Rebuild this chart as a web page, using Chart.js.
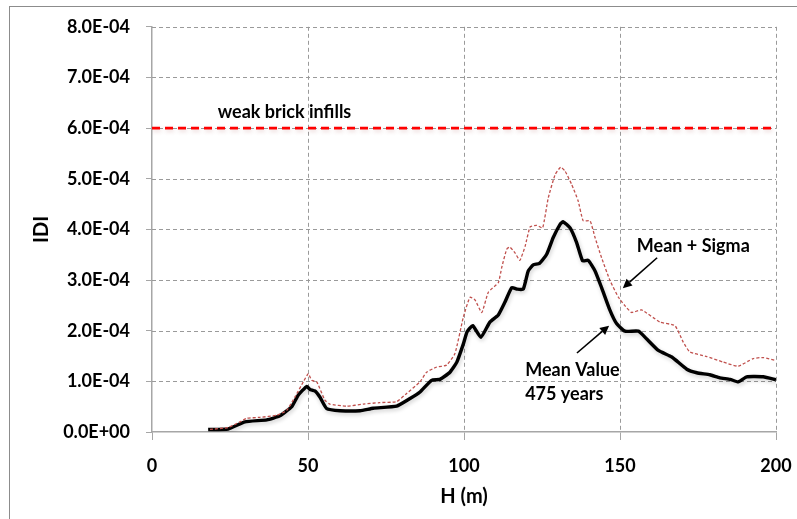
<!DOCTYPE html>
<html>
<head>
<meta charset="utf-8">
<script src="https://cdn.jsdelivr.net/npm/chart.js@4/dist/chart.umd.min.js"></script>
<style>
  html, body { margin: 0; padding: 0; background: #ffffff; }
  #wrap { width: 797px; height: 519px; }
</style>
</head>
<body>
<div id="wrap"><canvas id="chart" width="797" height="519"></canvas></div>
<script>
// Building height H (m)
const meanH = [18, 24.4, 29.8, 36.8, 41, 44.8, 46.9, 49.6, 50.6, 52.2, 53.8, 56, 60.3, 66.7, 70.9, 78.4, 82.7, 85.9, 89.6, 92.3, 95.5, 97.7, 99.8, 101, 102.8, 105.4, 108.3, 111, 113.1, 115.3, 117.1, 119, 120.6, 122.2, 124.2, 126.5, 128.6, 130.8, 131.8, 134, 136.1, 138, 139.8, 142, 144.1, 146.8, 148.9, 151.6, 155.9, 158.5, 162.3, 166.6, 171.4, 174.6, 178.8, 182, 185.3, 187.9, 190.6, 195.9, 200];
// Mean IDI, 475 years return period
const meanIDI = [0.05e-4, 0.06e-4, 0.20e-4, 0.24e-4, 0.32e-4, 0.50e-4, 0.73e-4, 0.90e-4, 0.84e-4, 0.81e-4, 0.69e-4, 0.46e-4, 0.42e-4, 0.42e-4, 0.47e-4, 0.51e-4, 0.66e-4, 0.79e-4, 1.02e-4, 1.04e-4, 1.18e-4, 1.38e-4, 1.74e-4, 1.98e-4, 2.10e-4, 1.87e-4, 2.17e-4, 2.31e-4, 2.56e-4, 2.85e-4, 2.82e-4, 2.82e-4, 3.18e-4, 3.30e-4, 3.33e-4, 3.51e-4, 3.84e-4, 4.10e-4, 4.15e-4, 4.03e-4, 3.74e-4, 3.38e-4, 3.39e-4, 3.18e-4, 2.85e-4, 2.40e-4, 2.14e-4, 1.99e-4, 1.99e-4, 1.84e-4, 1.61e-4, 1.48e-4, 1.24e-4, 1.17e-4, 1.13e-4, 1.07e-4, 1.04e-4, 0.99e-4, 1.09e-4, 1.09e-4, 1.03e-4];

const sigmaH = [18.6, 24.5, 28.2, 30.3, 34.6, 40, 43.2, 45.8, 48.5, 50.1, 51.2, 52.8, 55.4, 57, 62.4, 67.7, 73, 78.4, 81.6, 85.9, 88, 91.2, 94.4, 97.1, 99.8, 101.9, 103.5, 105.7, 107.8, 111, 112.1, 113.7, 114.7, 116.3, 117.9, 119.6, 121.2, 123.3, 125.2, 127, 129.2, 131, 132.4, 134.5, 136.6, 138.2, 140.4, 142, 144.1, 146.8, 149.5, 151.5, 153.7, 156.9, 162.8, 167.6, 170.3, 172.4, 177.8, 183.1, 187.9, 192.7, 195.9, 200];
// Mean + Sigma IDI
const sigmaIDI = [0.05e-4, 0.09e-4, 0.20e-4, 0.27e-4, 0.29e-4, 0.33e-4, 0.43e-4, 0.69e-4, 0.99e-4, 1.15e-4, 1.02e-4, 0.99e-4, 0.63e-4, 0.55e-4, 0.51e-4, 0.55e-4, 0.58e-4, 0.60e-4, 0.76e-4, 0.99e-4, 1.18e-4, 1.28e-4, 1.32e-4, 1.55e-4, 2.27e-4, 2.66e-4, 2.61e-4, 2.36e-4, 2.76e-4, 2.95e-4, 3.25e-4, 3.61e-4, 3.65e-4, 3.54e-4, 3.39e-4, 3.67e-4, 4.05e-4, 4.08e-4, 4.03e-4, 4.62e-4, 5.08e-4, 5.23e-4, 5.15e-4, 4.89e-4, 4.56e-4, 4.17e-4, 4.17e-4, 3.84e-4, 3.44e-4, 2.99e-4, 2.66e-4, 2.50e-4, 2.36e-4, 2.41e-4, 2.17e-4, 2.10e-4, 1.77e-4, 1.58e-4, 1.49e-4, 1.38e-4, 1.30e-4, 1.45e-4, 1.47e-4, 1.41e-4];

// Damage threshold for weak brick infills
const limitH = [0, 200];
const limitIDI = [6.0e-4, 6.0e-4];

const xTicks = [0, 50, 100, 150, 200];
const yMin = 0, yMax = 8e-4, yStep = 1e-4;

const FONT = "Lato, 'Open Sans', sans-serif";
const GRID_DASH = [4, 3];

function toPoints(xs, ys) { return xs.map((x, i) => ({ x: x, y: ys[i] })); }

// Excel-style scientific label: 8.0E-04, 0.0E+00
function sciLabel(v) {
  if (Math.abs(v) < 1e-12) return '0.0E+00';
  const parts = v.toExponential(1).split('e');
  const e = parseInt(parts[1], 10);
  return parts[0] + 'E' + (e < 0 ? '-' : '+') + String(Math.abs(e)).padStart(2, '0');
}

// Soft drop shadow on selected datasets
const shadowPlugin = {
  id: 'lineShadow',
  beforeDatasetDraw(chart, args) {
    const ds = chart.data.datasets[args.index];
    if (!ds.shadow) return;
    const ctx = chart.ctx;
    ctx.save();
    ctx.shadowColor = ds.shadow;
    ctx.shadowBlur = 4;
    ctx.shadowOffsetX = 1;
    ctx.shadowOffsetY = 2;
  },
  afterDatasetDraw(chart, args) {
    const ds = chart.data.datasets[args.index];
    if (!ds.shadow) return;
    chart.ctx.restore();
  }
};

// Outer frame
const framePlugin = {
  id: 'frame',
  beforeDraw(chart) {
    const ctx = chart.ctx;
    ctx.save();
    ctx.fillStyle = '#ffffff';
    ctx.fillRect(0, 0, chart.width, chart.height);
    ctx.strokeStyle = '#8c8c8c';
    ctx.lineWidth = 1;
    ctx.strokeRect(9.5, 6.5, 900, 700);
    ctx.restore();
  }
};

// Dashed grid lines at every tick of both axes
const dashedGridPlugin = {
  id: 'dashedGrid',
  beforeDatasetsDraw(chart) {
    const ctx = chart.ctx;
    const area = chart.chartArea;
    const xs = chart.scales.x, ys = chart.scales.y;
    ctx.save();
    ctx.strokeStyle = '#9a9a9a';
    ctx.lineWidth = 1;
    ctx.setLineDash(GRID_DASH);
    xs.ticks.forEach(t => {
      const x = Math.round(xs.getPixelForValue(t.value)) + 0.5;
      if (Math.abs(x - area.left) < 2) return;
      ctx.beginPath();
      ctx.moveTo(x, area.top);
      ctx.lineTo(x, area.bottom);
      ctx.stroke();
    });
    ys.ticks.forEach(t => {
      const y = Math.round(ys.getPixelForValue(t.value)) + 0.5;
      if (Math.abs(y - area.bottom) < 2) return;
      ctx.beginPath();
      ctx.moveTo(area.left, y);
      ctx.lineTo(area.right, y);
      ctx.stroke();
    });
    ctx.restore();
  }
};

function arrow(ctx, x1, y1, x2, y2) {
  const a = Math.atan2(y2 - y1, x2 - x1);
  const head = 9, half = 4.5;
  const bx = x2 - head * Math.cos(a), by = y2 - head * Math.sin(a);
  ctx.beginPath();
  ctx.moveTo(x1, y1);
  ctx.lineTo(bx, by);
  ctx.stroke();
  ctx.beginPath();
  ctx.moveTo(x2, y2);
  ctx.lineTo(bx + half * Math.sin(a), by - half * Math.cos(a));
  ctx.lineTo(bx - half * Math.sin(a), by + half * Math.cos(a));
  ctx.closePath();
  ctx.fill();
}

// Text labels and arrows placed in data coordinates
const notesPlugin = {
  id: 'notes',
  afterDatasetsDraw(chart) {
    const ctx = chart.ctx;
    const xs = chart.scales.x, ys = chart.scales.y;
    const px = v => xs.getPixelForValue(v);
    const py = v => ys.getPixelForValue(v);
    ctx.save();
    ctx.fillStyle = '#000000';
    ctx.strokeStyle = '#000000';
    ctx.textBaseline = 'middle';
    ctx.textAlign = 'left';

    ctx.font = 'bold 18px ' + FONT;
    ctx.fillText('weak brick infills', px(21.1), py(6.31e-4));
    ctx.fillText('Mean + Sigma', px(155.4), py(3.66e-4));
    ctx.fillText('Mean Value', px(119.6), py(1.22e-4));
    ctx.fillText('475 years', px(119.6), py(0.75e-4));

    ctx.lineWidth = 1.6;
    arrow(ctx, px(161.9), py(3.44e-4), px(150.9), py(2.84e-4));
    arrow(ctx, px(136.2), py(1.56e-4), px(146.5), py(2.10e-4));
    ctx.restore();
  }
};

new Chart(document.getElementById('chart'), {
  type: 'scatter',
  data: {
    datasets: [
      {
        label: 'weak brick infills',
        data: toPoints(limitH, limitIDI),
        showLine: true,
        borderColor: '#ff0000',
        borderWidth: 2.6,
        borderDash: [8, 5],
        pointRadius: 0,
        shadow: 'rgba(150,60,60,0.22)'
      },
      {
        label: 'Mean + Sigma',
        data: toPoints(sigmaH, sigmaIDI),
        showLine: true,
        borderColor: '#c0504d',
        borderWidth: 1.3,
        borderDash: [3, 2],
        pointRadius: 0,
        tension: 0.15
      },
      {
        label: 'Mean Value 475 years',
        data: toPoints(meanH, meanIDI),
        showLine: true,
        borderColor: '#000000',
        borderWidth: 3.4,
        pointRadius: 0,
        tension: 0.15,
        shadow: 'rgba(0,0,0,0.2)'
      }
    ]
  },
  options: {
    responsive: false,
    animation: false,
    devicePixelRatio: 1,
    layout: { padding: { top: 25, right: 21, left: 0, bottom: 0 } },
    plugins: {
      legend: { display: false },
      tooltip: { enabled: false }
    },
    scales: {
      x: {
        type: 'linear',
        min: 0,
        max: 200,
        afterBuildTicks(scale) { scale.ticks = xTicks.map(v => ({ value: v })); },
        afterFit(scale) {
          scale.height = 87;
          scale.paddingLeft = 0;
          scale.paddingRight = 16;
        },
        border: { display: true, color: '#a6a6a6', width: 1.5 },
        grid: {
          drawOnChartArea: false,
          tickLength: 8,
          tickColor: '#a6a6a6'
        },
        ticks: {
          color: '#000000',
          font: { family: FONT, size: 18, weight: 'bold' },
          padding: 15,
          maxRotation: 0
        },
        title: {
          display: true,
          text: 'H (m)',
          color: '#000000',
          font: { family: FONT, size: 20, weight: 'bold' },
          padding: { top: 0, bottom: 10 }
        }
      },
      y: {
        type: 'linear',
        min: yMin,
        max: yMax,
        ticks: {
          stepSize: yStep,
          color: '#000000',
          font: { family: FONT, size: 18, weight: 'bold' },
          padding: 16,
          callback: v => sciLabel(v)
        },
        afterFit(scale) { scale.width = 152; },
        border: { display: true, color: '#a6a6a6', width: 1.5 },
        grid: {
          drawOnChartArea: false,
          tickLength: 6,
          tickColor: '#a6a6a6'
        },
        title: {
          display: true,
          text: 'IDI',
          color: '#000000',
          font: { family: FONT, size: 20, weight: 'bold' },
          padding: { top: 30, bottom: 0 }
        }
      }
    }
  },
  plugins: [framePlugin, dashedGridPlugin, shadowPlugin, notesPlugin]
});
</script>
</body>
</html>
